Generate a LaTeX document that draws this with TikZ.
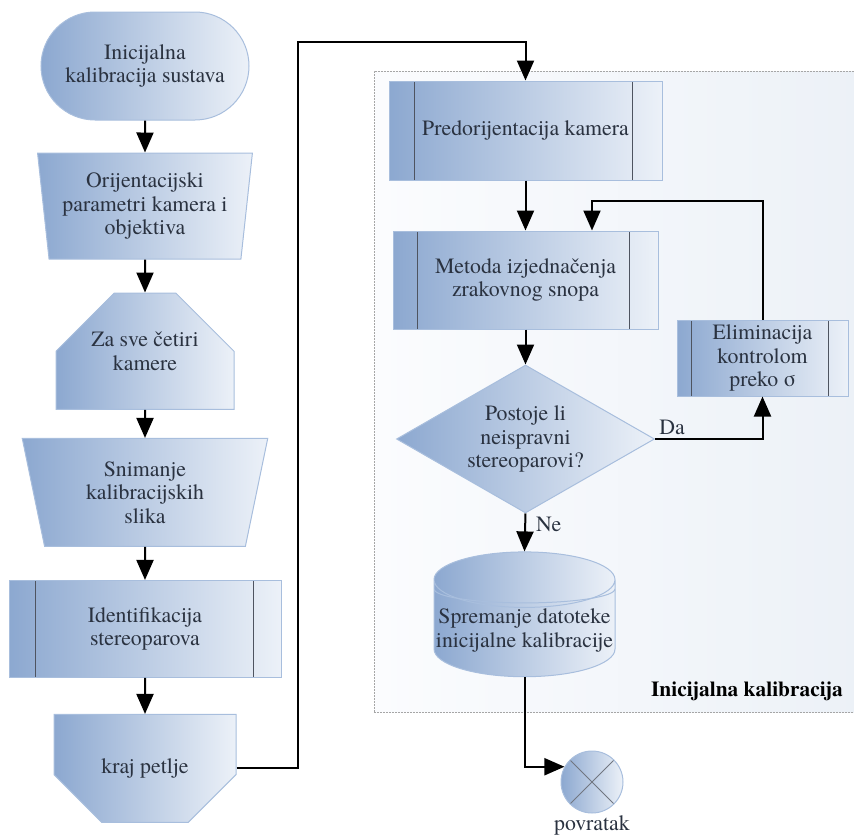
\documentclass[tikz,border=0pt]{standalone}
\usepackage{fontspec}
\IfFontExistsTF{TeX Gyre Termes}{\setmainfont{TeX Gyre Termes}}{\setmainfont{Liberation Serif}}
\usepackage{tikz}
\usetikzlibrary{arrows.meta,positioning,shapes.geometric,shapes.misc,calc}
\definecolor{plavo}{RGB}{140,168,208}
\definecolor{svijetlo}{RGB}{236,241,248}
\definecolor{rub}{RGB}{168,190,221}
\definecolor{tekst}{RGB}{42,50,64}
\definecolor{sivo}{RGB}{78,84,96}
\definecolor{okvirL}{RGB}{251,252,254}
\definecolor{okvirD}{RGB}{236,241,247}
\newcommand{\tekstf}{\fontsize{21.8}{23.5}\selectfont}
\tikzset{
  bloc/.style={draw=rub,line width=1pt,left color=plavo,right color=svijetlo,
    align=center,text=tekst,font=\tekstf,inner sep=1pt},
  pocetak/.style={bloc,rounded rectangle,minimum width=210pt,minimum height=108pt},
  rucno/.style={bloc,trapezium,shape border rotate=180,trapezium stretches=true},
  petlja/.style={bloc,chamfered rectangle,chamfered rectangle corners={north west,north east}},
  krajp/.style={bloc,chamfered rectangle,chamfered rectangle corners={south west,south east}},
  potproces/.style 2 args={bloc,rectangle,path picture={
    \draw[sivo,line width=1pt] ([xshift=#1]path picture bounding box.north west) -- ([xshift=#1]path picture bounding box.south west);
    \draw[sivo,line width=1pt] ([xshift=-#2]path picture bounding box.north east) -- ([xshift=-#2]path picture bounding box.south east);}},
  odluka/.style={bloc,diamond,aspect=1.74,minimum width=258pt,minimum height=148pt,inner sep=0pt},
  baza/.style={bloc,cylinder,shape border rotate=90,aspect=0.31,minimum width=181pt,minimum height=122pt,
    path picture={\draw[rub,line width=1pt] ([yshift=-37pt]path picture bounding box.north west)
      arc[start angle=180,end angle=360,x radius=90.5pt,y radius=14pt];}},
  izlaz/.style={bloc,circle,minimum size=62pt,path picture={
    \draw[sivo!80,line width=0.8pt] (path picture bounding box.north west) -- (path picture bounding box.south east);
    \draw[sivo!80,line width=0.8pt] (path picture bounding box.north east) -- (path picture bounding box.south west);}},
  okvir/.style={draw=gray!70,dash pattern=on 2pt off 1pt,line width=1pt,left color=okvirL,right color=okvirD},
  fl/.style={-{Triangle[length=20pt,width=17pt]},line width=2pt},
  lbl/.style={font=\tekstf,text=tekst,inner sep=2pt},
}
\begin{document}
\begin{tikzpicture}[x=1pt,y=-1pt]
  \clip (0,0) rectangle (854,835);
  \node[okvir,minimum width=488pt,minimum height=641pt] (okv) at (618,391.5) {};
  \node[lbl,font=\fontsize{21.4}{24}\selectfont\bfseries,text=black] (nasl) at (747,691) {Inicijalna kalibracija};
  % lijevi stupac
  \node[pocetak] (start) at (145,66) {Inicijalna\\kalibracija sustava};
  \node[rucno,minimum width=215pt,minimum height=106pt,trapezium angle=81.7,below=32pt of start] (orij) {Orijentacijski\\parametri kamera i\\objektiva};
  \node[petlja,minimum width=178pt,minimum height=110pt,chamfered rectangle xsep=24pt,chamfered rectangle ysep=38pt,below=33pt of orij] (petlja) {Za sve četiri\\kamere};
  \node[rucno,minimum width=246pt,minimum height=108pt,trapezium angle=78.2,below=28pt of petlja] (snim) {Snimanje\\kalibracijskih\\slika};
  \node[potproces={26pt}{28pt},minimum width=272pt,minimum height=97pt,below=33pt of snim] (ident) {Identifikacija\\stereoparova};
  \node[krajp,minimum width=182pt,minimum height=108pt,chamfered rectangle xsep=23pt,chamfered rectangle ysep=37pt,below=36pt of ident] (kraj) {kraj petlje};
  % desni dio
  \node[potproces={25pt}{30pt},minimum width=273pt,minimum height=99pt] (pred) at (525.5,130.5) {Predorijentacija kamera};
  \node[potproces={24pt}{29pt},minimum width=265pt,minimum height=98pt,below=50pt of pred] (metoda) {Metoda izjednačenja\\zrakovnog snopa};
  \node[potproces={14pt}{20pt},minimum width=171pt,minimum height=76pt] (elim) at (762.5,358) {Eliminacija\\kontrolom\\preko σ};
  \node[odluka,below=35pt of metoda] (dec) {Postoje li\\neispravni\\stereoparovi?};
  \node[baza] (cyl) at (524.5,630.5) {Spremanje datoteke\\inicijalne kalibracije};
  \node[izlaz] (circ) at (592,782) {};
  \node[lbl,below=0pt of circ] (povr) {povratak};
  \coordinate (pregib) at (298,42);
  \coordinate (povrat) at (592,201);
  \draw[fl] (start) -- (orij);
  \draw[fl] (orij) -- (petlja);
  \draw[fl] (petlja) -- (snim);
  \draw[fl] (snim) -- (ident);
  \draw[fl] (ident) -- (kraj);
  \draw[fl] (kraj.east) -| (pregib) -| (pred.north);
  \draw[fl] (pred) -- (metoda);
  \draw[fl] (metoda) -- (dec);
  \draw[fl] (dec.east) -| node[lbl,pos=0.08,above=1pt]{Da} (elim.south);
  \draw[fl] (elim.north) |- (povrat) -- (povrat |- metoda.north);
  \draw[fl] (dec.south) -- node[lbl,pos=0.3,right=8pt]{Ne} (cyl.north);
  \draw[fl] (cyl.south) |- (circ.151);
\end{tikzpicture}
\end{document}
